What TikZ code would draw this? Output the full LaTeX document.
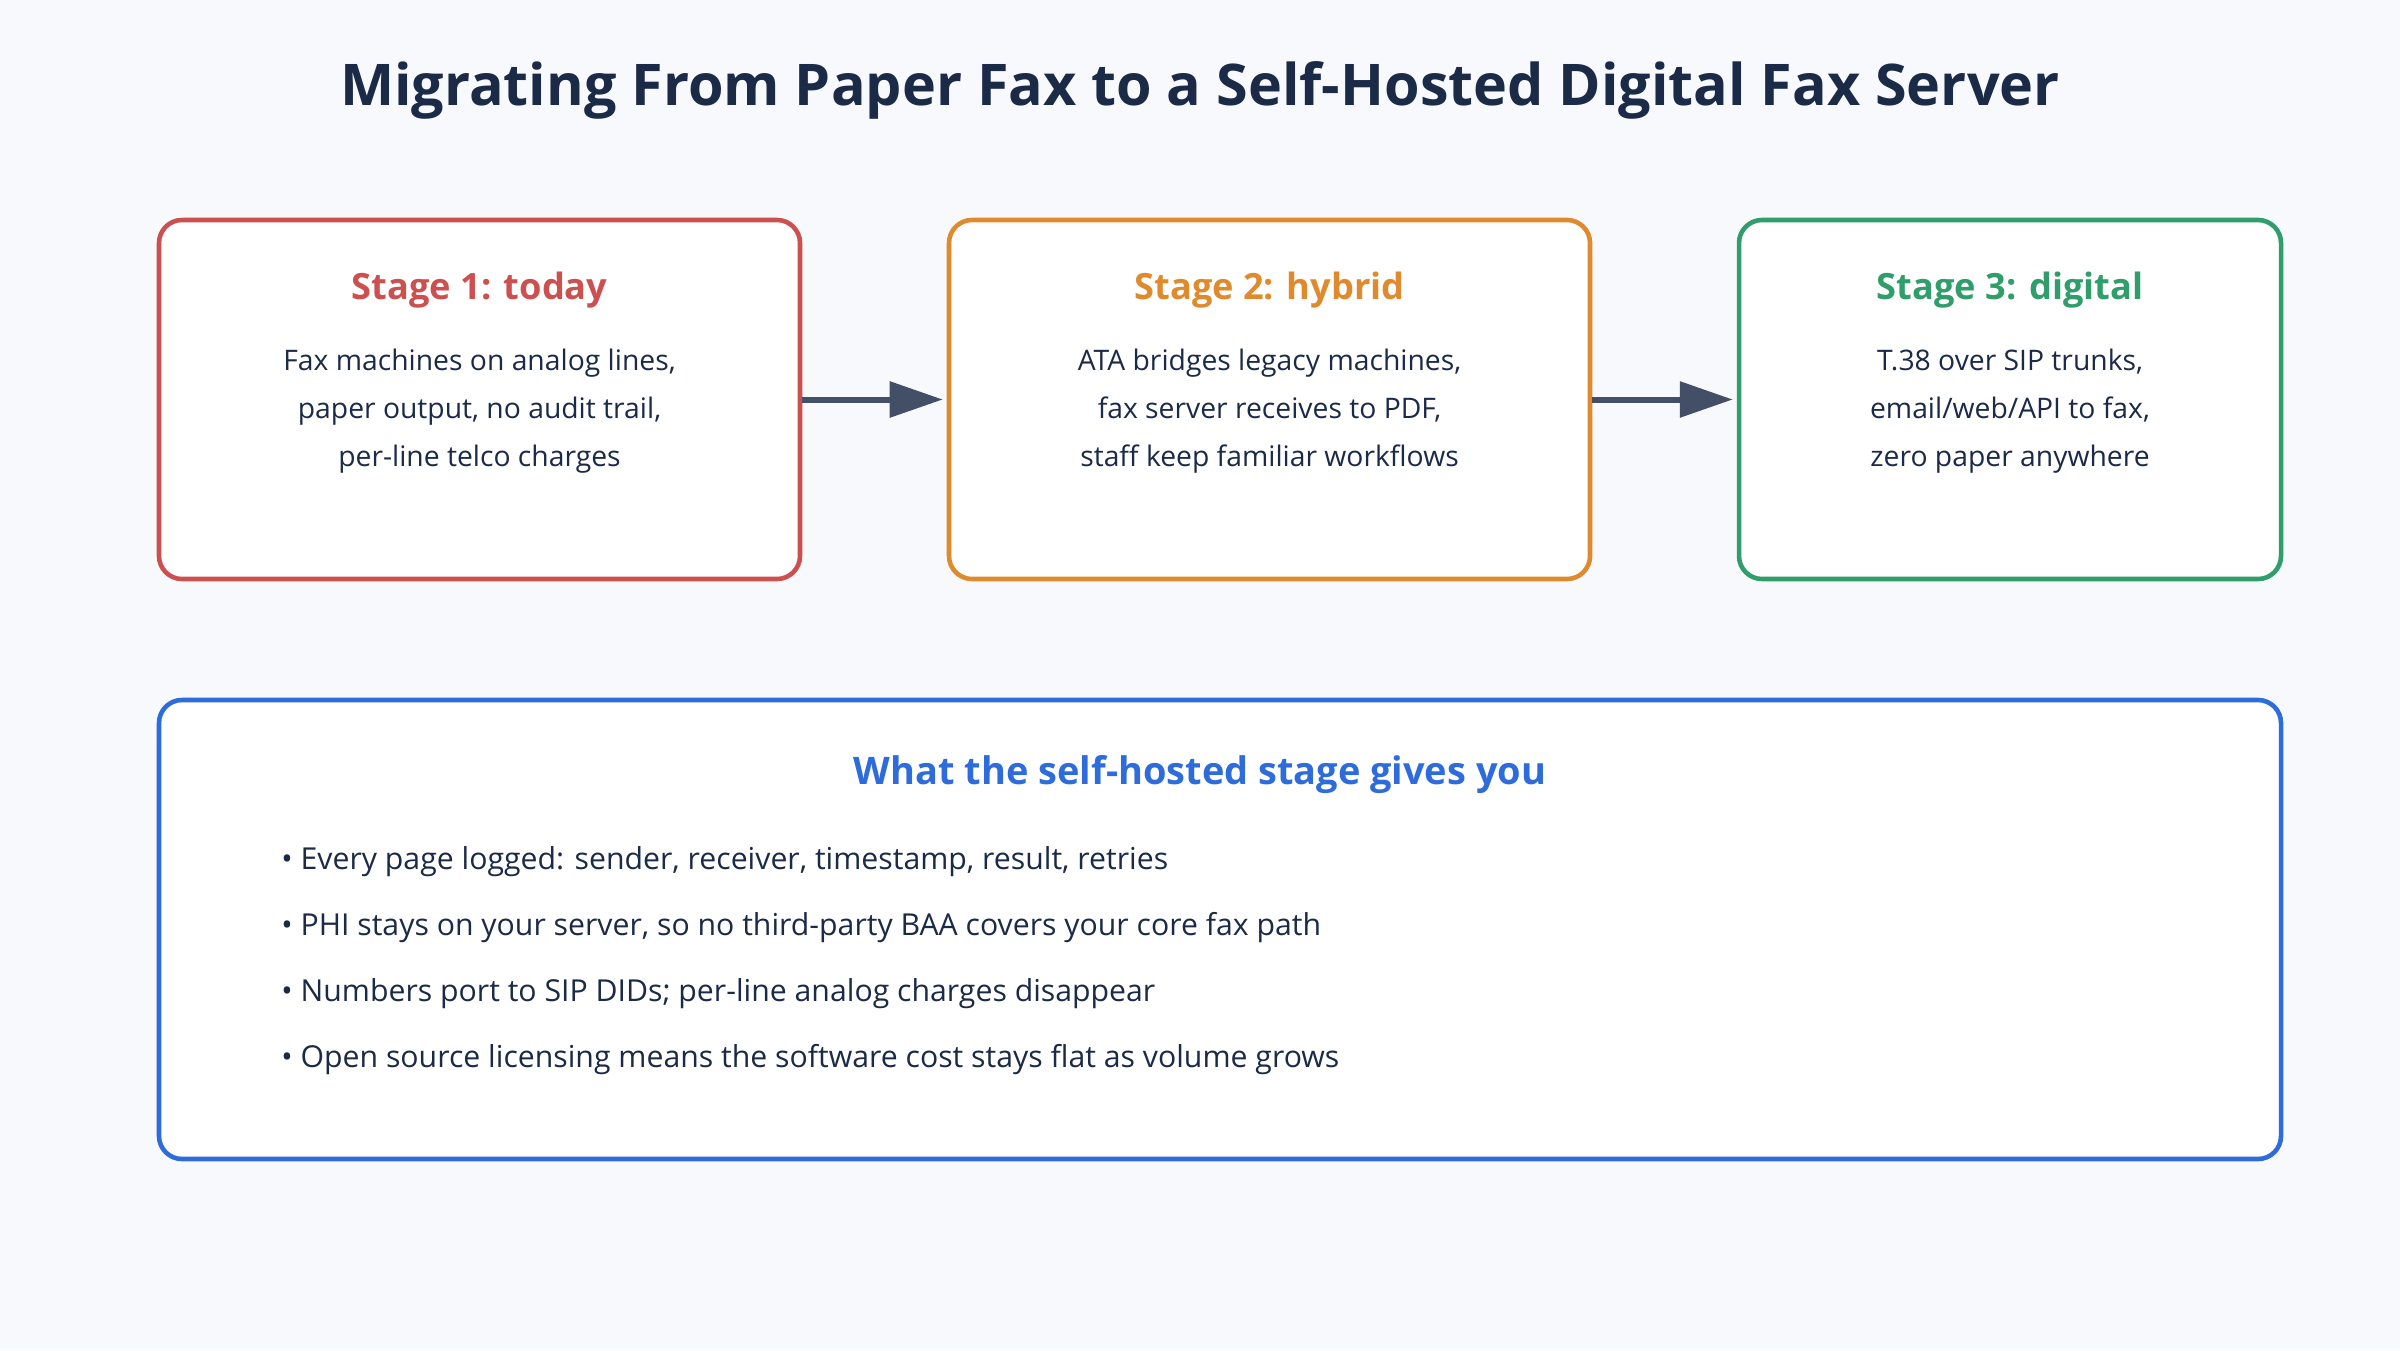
\documentclass[tikz,border=0pt]{standalone}
\usepackage{fontspec}
\setmainfont{Open Sans}
\usepackage{tikz}
\usetikzlibrary{arrows.meta, positioning, calc}

\definecolor{bgcol}{HTML}{F7F9FC}
\definecolor{inkcol}{HTML}{1B2A47}
\definecolor{arrowcol}{HTML}{434F67}
\definecolor{redcol}{HTML}{CC5050}
\definecolor{orangecol}{HTML}{E08A2E}
\definecolor{greencol}{HTML}{2F9E6A}
\definecolor{bluecol}{HTML}{2E6CDB}

\begin{document}
\begin{tikzpicture}[
    x=1cm, y=1cm,
    >=Latex,
    stagebox/.style={
        draw,
        line width=1.3pt,
        rounded corners=0.23cm,
        fill=white,
        minimum height=3.59cm,
        inner sep=0pt
    },
    stagetitle/.style={
        font=\fontsize{10.3}{12}\selectfont\bfseries
    },
    stagetext/.style={
        align=center,
        text=inkcol,
        font=\fontsize{8.05}{13.7}\selectfont
    },
    flowarrow/.style={
        -{Triangle[length=0.53cm, width=0.35cm]},
        line width=0.06cm,
        draw=arrowcol,
        shorten >=0.04cm
    },
    bullet/.style={
        anchor=west,
        text=inkcol,
        font=\fontsize{8.6}{10}\selectfont
    }
]

% canvas
\fill[bgcol] (0,0) rectangle (24,13.5);
\useasboundingbox (0,0) rectangle (24,13.5);

\node[text=inkcol, font=\fontsize{16.35}{19}\selectfont\bfseries] (title) at (12,12.60)
    {Migrating From Paper Fax to a Self-Hosted Digital Fax Server};

% the three stages
\node[stagebox, draw=redcol, minimum width=6.41cm]    (stage1) at (4.795, 9.505) {};
\node[stagebox, draw=orangecol, minimum width=6.41cm] (stage2) at (12.695, 9.505) {};
\node[stagebox, draw=greencol, minimum width=5.42cm]  (stage3) at (20.10, 9.505) {};

\node[stagetitle, text=redcol] (t1) at (4.795, 10.60) {Stage 1: today};
\node[stagetext] (d1) at (4.795, 9.39)
    {Fax machines on analog lines,\\ paper output, no audit trail,\\ per-line telco charges};

\node[stagetitle, text=orangecol] (t2) at (12.695, 10.60) {Stage 2: hybrid};
\node[stagetext] (d2) at (12.695, 9.39)
    {ATA bridges legacy machines,\\ fax server receives to PDF,\\ staff keep familiar workflows};

\node[stagetitle, text=greencol] (t3) at (20.10, 10.60) {Stage 3: digital};
\node[stagetext] (d3) at (20.10, 9.39)
    {T.38 over SIP trunks,\\ email/web/API to fax,\\ zero paper anywhere};

\draw[flowarrow] (stage1.east) -- (stage2.west);
\draw[flowarrow] (stage2.east) -- (stage3.west);

% benefits
\node[stagebox, draw=bluecol, minimum width=21.22cm, minimum height=4.59cm] (gains) at (12.2, 4.205) {};

\node[stagetitle, text=bluecol, font=\fontsize{10.8}{12}\selectfont\bfseries] (gainstitle) at (12, 5.75)
    {What the self-hosted stage gives you};

\node[bullet] (b1) at (2.69, 4.88) {• Every page logged: sender, receiver, timestamp, result, retries};
\node[bullet] (b2) at (2.69, 4.22) {• PHI stays on your server, so no third-party BAA covers your core fax path};
\node[bullet] (b3) at (2.69, 3.56) {• Numbers port to SIP DIDs; per-line analog charges disappear};
\node[bullet] (b4) at (2.69, 2.90) {• Open source licensing means the software cost stays flat as volume grows};

\end{tikzpicture}
\end{document}
